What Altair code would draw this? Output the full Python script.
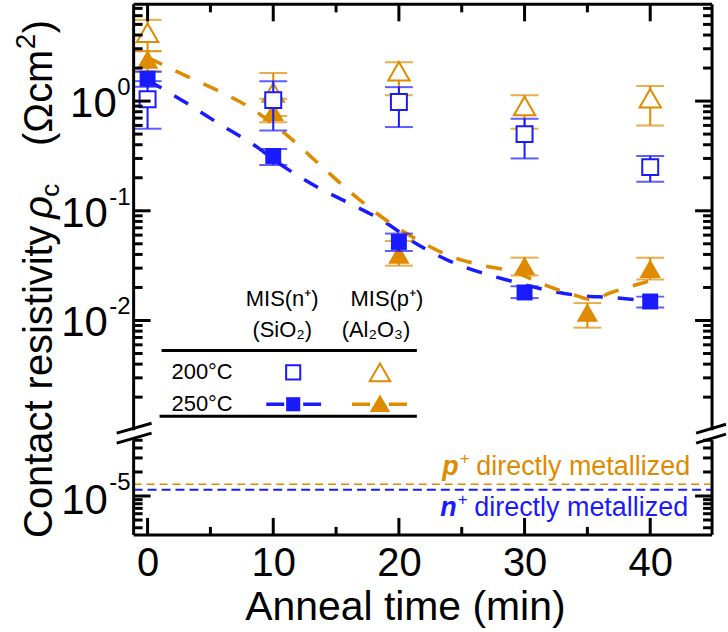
import altair as alt
import pandas as pd

# ---------------- data ----------------
t200 = [0, 10, 20, 30, 40]
n200_val = [1.04, 1.02, 0.98, 0.50, 0.25]
n200_lo = [0.56, 0.54, 0.58, 0.30, 0.184]
n200_hi = [1.52, 1.52, 1.34, 0.69, 0.316]
p200_val = [4.2, 1.2, 1.87, 0.90, 1.06]
p200_lo = [2.85, 0.73, 1.13, 0.56, 0.60]
p200_hi = [5.5, 1.8, 2.26, 1.13, 1.37]

t250_n = [0, 10, 20, 30, 40]
n250_val = [1.6, 0.316, 0.052, 0.018, 0.0149]
n250_lo = [1.35, 0.262, 0.043, 0.016, 0.0131]
n250_hi = [1.85, 0.366, 0.062, 0.0205, 0.0165]
t250_p = [0, 10, 20, 30, 35, 40]
p250_val = [2.4, 0.8, 0.040, 0.0316, 0.0118, 0.0297]
p250_lo = [1.87, 0.64, 0.0316, 0.0257, 0.0086, 0.0236]
p250_hi = [2.85, 1.05, 0.053, 0.0374, 0.0144, 0.0374]

fit_t_n = [0, 3.1, 5.7, 8.3, 10.9, 13.6, 16.2, 18.8, 21.4, 24.0, 26.5, 29.1, 31.7, 34.3, 37.0, 40]
fit_n = [1.55, 0.96, 0.62, 0.41, 0.25, 0.162, 0.115, 0.080, 0.050, 0.035, 0.0274, 0.0226, 0.019, 0.0169, 0.0162, 0.015]
fit_t_p = [0, 3.1, 5.7, 8.3, 10.9, 13.6, 16.2, 18.8, 21.4, 24.0, 26.5, 29.1, 31.7, 34.3, 35.3, 36.9, 40]
fit_p = [2.5, 1.69, 1.23, 0.85, 0.51, 0.27, 0.146, 0.085, 0.055, 0.039, 0.032, 0.0279, 0.0209, 0.0166, 0.0155, 0.018, 0.023]

direct_p = [1.4e-5]
direct_n = [1.2e-5]

x_major = [0, 10, 20, 30, 40]
x_minor = [5, 15, 25, 35]
y_major_top = [1, 0.1, 0.01]
y_sup_top = ["0", "-1", "-2"]
y_minor_top = [m * 10.0 ** k for k in (-3, -2, -1) for m in range(2, 10)] + [2, 3, 4, 5, 6, 7]
y_major_bot = [1e-5]
y_sup_bot = ["-5"]
y_minor_bot = [4e-6, 5e-6, 6e-6, 7e-6, 8e-6, 9e-6, 2e-5, 3e-5, 4e-5, 5e-5]

# ---------------- style ----------------
BLUE = "#1a1aff"
ORANGE = "#e08a00"
FONT = "Liberation Sans"
W = 580
H1 = 427
H2 = 95

xs = alt.Scale(domain=[-1.11, 44.92], nice=False, zero=False)
ys1 = alt.Scale(type="log", domain=[1e-3, 10 ** (97 / 110)], nice=False)
ys2 = alt.Scale(type="log", domain=[10 ** -5.4875, 10 ** -4.3], nice=False)

one = pd.DataFrame({"k": [0]})

lower_xaxis = alt.Axis(values=x_major, format="d", labelFontSize=40, labelFont=FONT,
                       labelColor="black", ticks=False, tickSize=0, domain=False, grid=False,
                       labelPadding=9, labelFlush=False, labelOverlap=False,
                       title="Anneal time (min)", titleFontSize=41, titleFont=FONT,
                       titleFontWeight="normal", titleColor="black", titlePadding=4, titleX=272)


def XU(f):
    return alt.X(f"{f}:Q", scale=xs, axis=None)


def XL(f):
    return alt.X(f"{f}:Q", scale=xs, axis=lower_xaxis)


def YU(f):
    return alt.Y(f"{f}:Q", scale=ys1, axis=None)


def YL(f):
    return alt.Y(f"{f}:Q", scale=ys2, axis=None)


def seg(x1, y1, x2=None, y2=None, color="black", w=3, dash=None):
    kw = dict(color=color, strokeWidth=w)
    if dash:
        kw["strokeDash"] = dash
    enc = dict(x=alt.value(x1), y=alt.value(y1))
    if x2 is not None:
        enc["x2"] = alt.value(x2)
    if y2 is not None:
        enc["y2"] = alt.value(y2)
    return alt.Chart(one).mark_rule(**kw).encode(**enc)


def txt(x, y, s, size=22, color="black", align="left", baseline="middle", angle=0,
        style=None, weight=None, dy=0):
    kw = dict(font=FONT, fontSize=size, color=color, align=align, baseline=baseline, dy=dy)
    if angle:
        kw["angle"] = angle
    if style:
        kw["fontStyle"] = style
    if weight:
        kw["fontWeight"] = weight
    return alt.Chart(one).mark_text(**kw).encode(x=alt.value(x), y=alt.value(y), text=alt.value(s))


def errbars(t, lo, hi, color, Y, X):
    d = pd.DataFrame({"t": t, "lo": lo, "hi": hi})
    rule = alt.Chart(d).mark_rule(color=color, strokeWidth=2).encode(
        x=X("t"), y=Y("lo"), y2=alt.Y2("hi"))
    caps = alt.Chart(d).transform_fold(["lo", "hi"], as_=["which", "e"]).mark_tick(
        color=color, orient="horizontal", size=28, thickness=2).encode(x=X("t"), y=Y("e"))
    return [rule, caps]


# ---------------- upper panel ----------------
up = []
df_fn = pd.DataFrame({"t": fit_t_n, "v": fit_n})
df_fp = pd.DataFrame({"t": fit_t_p, "v": fit_p})
up.append(alt.Chart(df_fn).mark_line(color=BLUE, strokeDash=[16, 15], strokeWidth=3.5,
                                     interpolate="monotone").encode(x=XU("t"), y=YU("v")))
up.append(alt.Chart(df_fp).mark_line(color=ORANGE, strokeDash=[16, 15], strokeWidth=3.5,
                                     interpolate="monotone").encode(x=XU("t"), y=YU("v")))

# 250 C p+ (filled triangles)
up += errbars(t250_p, p250_lo, p250_hi, ORANGE, YU, XU)
up.append(alt.Chart(pd.DataFrame({"t": t250_p, "v": p250_val})).mark_point(
    shape="triangle-up", filled=True, color=ORANGE, size=460, opacity=1).encode(x=XU("t"), y=YU("v")))
# 200 C p+ (open triangles)
up += errbars(t200, p200_lo, p200_hi, ORANGE, YU, XU)
up.append(alt.Chart(pd.DataFrame({"t": t200, "v": p200_val})).mark_point(
    shape="triangle-up", fill="white", stroke=ORANGE, strokeWidth=2, size=460, opacity=1,
    fillOpacity=1).encode(x=XU("t"), y=YU("v")))
# 250 C n+ (filled squares)
up += errbars(t250_n, n250_lo, n250_hi, BLUE, YU, XU)
up.append(alt.Chart(pd.DataFrame({"t": t250_n, "v": n250_val})).mark_point(
    shape="square", filled=True, color=BLUE, size=256, opacity=1).encode(x=XU("t"), y=YU("v")))
# 200 C n+ (open squares)
up += errbars(t200, n200_lo, n200_hi, BLUE, YU, XU)
up.append(alt.Chart(pd.DataFrame({"t": t200, "v": n200_val})).mark_point(
    shape="square", fill="white", stroke=BLUE, strokeWidth=2, size=256, opacity=1,
    fillOpacity=1).encode(x=XU("t"), y=YU("v")))

# frame
up.append(seg(0, 0, y2=H1))
up.append(seg(W, 0, y2=H1))
up.append(seg(0, 0, x2=W))
# ticks
dymaj = pd.DataFrame({"v": y_major_top, "s": y_sup_top})
dymin = pd.DataFrame({"v": y_minor_top})
up.append(alt.Chart(dymaj).mark_rule(color="black", strokeWidth=3).encode(y=YU("v"), x=alt.value(0), x2=alt.value(17)))
up.append(alt.Chart(dymin).mark_rule(color="black", strokeWidth=3).encode(y=YU("v"), x=alt.value(0), x2=alt.value(9)))
up.append(alt.Chart(dymaj).mark_rule(color="black", strokeWidth=3).encode(y=YU("v"), x=alt.value(W - 17), x2=alt.value(W)))
up.append(alt.Chart(dymin).mark_rule(color="black", strokeWidth=3).encode(y=YU("v"), x=alt.value(W - 9), x2=alt.value(W)))
dxmaj = pd.DataFrame({"v": x_major})
dxmin = pd.DataFrame({"v": x_minor})
up.append(alt.Chart(dxmaj).mark_rule(color="black", strokeWidth=3).encode(x=XU("v"), y=alt.value(0), y2=alt.value(17)))
up.append(alt.Chart(dxmin).mark_rule(color="black", strokeWidth=3).encode(x=XU("v"), y=alt.value(0), y2=alt.value(8)))
# y tick labels (10 with superscript exponent)
up.append(alt.Chart(dymaj[dymaj.v == 1]).mark_text(font=FONT, fontSize=42, align="right", baseline="alphabetic", dy=16).encode(
    y=YU("v"), x=alt.value(-17), text=alt.value("10")))
up.append(alt.Chart(dymaj[dymaj.v < 1]).mark_text(font=FONT, fontSize=42, align="right", baseline="alphabetic", dy=16).encode(
    y=YU("v"), x=alt.value(-26), text=alt.value("10")))
up.append(alt.Chart(dymaj).mark_text(font=FONT, fontSize=24, align="right", baseline="alphabetic", dy=-6).encode(
    y=YU("v"), x=alt.value(-3), text="s:N"))

# break marks
for (a, b, c, d) in [(-17, 430, 18, 420), (-17, 440, 18, 430), (564, 430, 594, 421), (564, 440, 594, 431)]:
    up.append(seg(a, b, c, d))

# y axis title (rotated)
up.append(txt(-82, 535, "Contact resistivity", size=40, angle=270, baseline="alphabetic"))
up.append(txt(-82, 215, "ρ", size=40, angle=270, baseline="alphabetic", style="italic"))
up.append(txt(-75, 193, "c", size=26, angle=270, baseline="alphabetic"))
up.append(txt(-82, 142, "(Ωcm", size=40, angle=270, baseline="alphabetic"))
up.append(txt(-99, 45, "2", size=28, angle=270, baseline="alphabetic"))
up.append(txt(-82, 29, ")", size=40, angle=270, baseline="alphabetic"))

# legend table
up.append(txt(149, 295, "MIS(n⁺)", align="center"))
up.append(txt(254, 295, "MIS(p⁺)", align="center"))
up.append(txt(149, 327, "(SiO₂)", align="center"))
up.append(txt(243, 327, "(Al₂O₃)", align="center"))
up.append(seg(28, 347, x2=284))
up.append(txt(38, 369, "200°C"))
up.append(txt(38, 401, "250°C"))
up.append(seg(26, 413, x2=284))
up.append(alt.Chart(one).mark_point(shape="square", fill="white", stroke=BLUE, strokeWidth=2, size=200,
                                    opacity=1, fillOpacity=1).encode(x=alt.value(160), y=alt.value(369)))
up.append(alt.Chart(one).mark_point(shape="triangle-up", fill="white", stroke=ORANGE, strokeWidth=2, size=420,
                                    opacity=1, fillOpacity=1).encode(x=alt.value(247), y=alt.value(369)))
up.append(seg(133, 401, x2=188, color=BLUE, w=3.5, dash=[18, 19]))
up.append(seg(219, 401, x2=274, color=ORANGE, w=3.5, dash=[18, 19]))
up.append(alt.Chart(one).mark_point(shape="square", filled=True, color=BLUE, size=200, opacity=1).encode(
    x=alt.value(160), y=alt.value(401)))
up.append(alt.Chart(one).mark_point(shape="triangle-up", filled=True, color=ORANGE, size=420, opacity=1).encode(
    x=alt.value(247), y=alt.value(400)))

upper = alt.layer(*up).properties(width=W, height=H1)

# ---------------- lower panel ----------------
lo = []
dp = pd.DataFrame({"v": direct_p})
dn = pd.DataFrame({"v": direct_n})
lo.append(alt.Chart(dp).mark_rule(color=ORANGE, strokeWidth=1.5, strokeDash=[8, 5]).encode(
    y=YL("v"), x=alt.value(0), x2=alt.value(W)))
lo.append(alt.Chart(dn).mark_rule(color=BLUE, strokeWidth=2, strokeDash=[9, 5]).encode(
    y=YL("v"), x=alt.value(0), x2=alt.value(W)))
lo.append(alt.Chart(dp).mark_text(font=FONT, fontSize=27, color=ORANGE, align="right", baseline="alphabetic", dy=-9).encode(
    y=YL("v"), x=alt.value(558), text=alt.value("directly metallized")))
lo.append(alt.Chart(dp).mark_text(font=FONT, fontSize=27, color=ORANGE, align="right", baseline="alphabetic", dy=-9,
                                  fontStyle="italic", fontWeight="bold").encode(
    y=YL("v"), x=alt.value(326), text=alt.value("p")))
lo.append(alt.Chart(dp).mark_text(font=FONT, fontSize=17, color=ORANGE, align="left", baseline="alphabetic", dy=-20).encode(
    y=YL("v"), x=alt.value(327), text=alt.value("+")))
lo.append(alt.Chart(dn).mark_text(font=FONT, fontSize=27, color=BLUE, align="right", baseline="alphabetic", dy=26).encode(
    y=YL("v"), x=alt.value(556), text=alt.value("directly metallized")))
lo.append(alt.Chart(dn).mark_text(font=FONT, fontSize=27, color=BLUE, align="right", baseline="alphabetic", dy=26,
                                  fontStyle="italic", fontWeight="bold").encode(
    y=YL("v"), x=alt.value(324), text=alt.value("n")))
lo.append(alt.Chart(dn).mark_text(font=FONT, fontSize=17, color=BLUE, align="left", baseline="alphabetic", dy=15).encode(
    y=YL("v"), x=alt.value(325), text=alt.value("+")))

lo.append(seg(0, 0, y2=H2))
lo.append(seg(W, 0, y2=H2))
lo.append(seg(0, H2, x2=W))
dymaj2 = pd.DataFrame({"v": y_major_bot, "s": y_sup_bot})
dymin2 = pd.DataFrame({"v": y_minor_bot})
lo.append(alt.Chart(dymaj2).mark_rule(color="black", strokeWidth=3).encode(y=YL("v"), x=alt.value(0), x2=alt.value(17)))
lo.append(alt.Chart(dymin2).mark_rule(color="black", strokeWidth=3).encode(y=YL("v"), x=alt.value(0), x2=alt.value(9)))
lo.append(alt.Chart(dymaj2).mark_rule(color="black", strokeWidth=3).encode(y=YL("v"), x=alt.value(W - 17), x2=alt.value(W)))
lo.append(alt.Chart(dymin2).mark_rule(color="black", strokeWidth=3).encode(y=YL("v"), x=alt.value(W - 9), x2=alt.value(W)))
lo.append(alt.Chart(dxmaj).mark_rule(color="black", strokeWidth=3).encode(x=XL("v"), y=alt.value(H2), y2=alt.value(H2 - 17)))
lo.append(alt.Chart(dxmin).mark_rule(color="black", strokeWidth=3).encode(x=XL("v"), y=alt.value(H2), y2=alt.value(H2 - 8)))
lo.append(alt.Chart(dymaj2).mark_text(font=FONT, fontSize=42, align="right", baseline="alphabetic", dy=18).encode(
    y=YL("v"), x=alt.value(-26), text=alt.value("10")))
lo.append(alt.Chart(dymaj2).mark_text(font=FONT, fontSize=24, align="right", baseline="alphabetic", dy=-6).encode(
    y=YL("v"), x=alt.value(-3), text="s:N"))

lower = alt.layer(*lo).properties(width=W, height=H2)

chart = alt.vconcat(upper, lower, spacing=10, bounds="flush").properties(
    padding={"left": 13, "top": 1.5, "right": 0, "bottom": 0},
    background="white",
).configure_view(stroke=None)

chart.save("out.html", embed_options={"renderer": "svg", "actions": False})
